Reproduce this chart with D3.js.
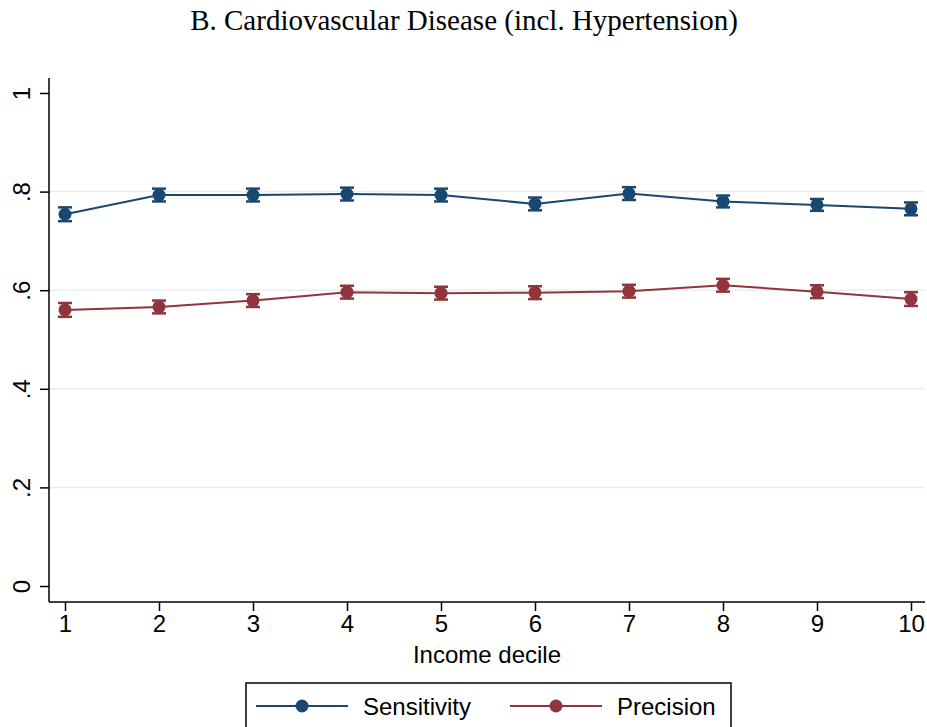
<!DOCTYPE html>
<html>
<head>
<meta charset="utf-8">
<script src="https://cdn.jsdelivr.net/npm/d3@7"></script>
<style>
  html, body { margin: 0; padding: 0; background: #fff; }
  svg { display: block; }
</style>
</head>
<body>
<svg id="chart" width="927" height="727"></svg>
<script>
// Income deciles on the x axis
const deciles = [1, 2, 3, 4, 5, 6, 7, 8, 9, 10];

// Point estimates
const sensitivity = [0.754, 0.793, 0.793, 0.795, 0.793, 0.775, 0.796, 0.780, 0.773, 0.765];
const precision   = [0.560, 0.566, 0.579, 0.596, 0.594, 0.595, 0.598, 0.610, 0.597, 0.582];

// 95% confidence interval bounds
const sensitivityLo = [0.740, 0.780, 0.780, 0.782, 0.780, 0.762, 0.783, 0.768, 0.761, 0.752];
const sensitivityHi = [0.768, 0.806, 0.806, 0.808, 0.806, 0.788, 0.809, 0.792, 0.785, 0.778];
const precisionLo   = [0.546, 0.553, 0.566, 0.583, 0.581, 0.582, 0.585, 0.597, 0.584, 0.568];
const precisionHi   = [0.574, 0.579, 0.592, 0.609, 0.607, 0.608, 0.611, 0.623, 0.610, 0.596];

const yTicks = [0, 0.2, 0.4, 0.6, 0.8, 1];
const yTickLabels = ["0", ".2", ".4", ".6", ".8", "1"];

const titleText = "B. Cardiovascular Disease (incl. Hypertension)";
const xTitle = "Income decile";

const series = [
  { name: "Sensitivity", color: "#1a476f", values: sensitivity, lo: sensitivityLo, hi: sensitivityHi },
  { name: "Precision",   color: "#90353b", values: precision,   lo: precisionLo,   hi: precisionHi }
];

const svg = d3.select("#chart");
const sans = "'Liberation Sans', Arial, sans-serif";
const fs = 24;

// Plot region
const plot = { left: 49, right: 925, top: 78, bottom: 602 };

const x = d3.scaleLinear().domain([1, 10]).range([65, 911]);
const y = d3.scaleLinear().domain([0, 1]).range([586, 93]);

// Title
svg.append("text")
  .attr("x", 464).attr("y", 30)
  .attr("text-anchor", "middle")
  .attr("font-family", "'Palatino Linotype', 'Book Antiqua', 'Liberation Serif', 'DejaVu Serif', serif")
  .attr("font-size", 29)
  .attr("fill", "#000")
  .text(titleText);

// Horizontal grid lines at interior ticks
svg.append("g")
  .selectAll("line")
  .data(yTicks.filter(t => t > 0 && t < 1))
  .join("line")
  .attr("x1", plot.left).attr("x2", plot.right)
  .attr("y1", d => y(d)).attr("y2", d => y(d))
  .attr("stroke", "#e8eff2")
  .attr("stroke-width", 1.5);

// Y axis
const yAxis = svg.append("g")
  .attr("transform", `translate(${plot.left},0)`)
  .call(d3.axisLeft(y).tickValues(yTicks).tickSize(9)
    .tickFormat((d, i) => yTickLabels[i]));
yAxis.select(".domain").attr("d", `M0,${plot.top}V${plot.bottom}`).attr("stroke", "#000").attr("stroke-width", 1.5);
yAxis.selectAll(".tick line").attr("stroke", "#000").attr("stroke-width", 1.5);
yAxis.selectAll(".tick text")
  .attr("font-family", sans).attr("font-size", fs).attr("fill", "#000")
  .attr("x", 0).attr("y", 0).attr("dy", 0)
  .attr("text-anchor", "middle")
  .attr("transform", "translate(-25,0) rotate(-90)")
  .attr("dominant-baseline", "middle");

// X axis
const xAxis = svg.append("g")
  .attr("transform", `translate(0,${plot.bottom})`)
  .call(d3.axisBottom(x).tickValues(deciles).tickSize(9).tickFormat(d3.format("d")));
xAxis.select(".domain").attr("d", `M${plot.left},0H${plot.right}`).attr("stroke", "#000").attr("stroke-width", 1.5);
xAxis.selectAll(".tick line").attr("stroke", "#000").attr("stroke-width", 1.5);
xAxis.selectAll(".tick text")
  .attr("font-family", sans).attr("font-size", fs).attr("fill", "#000")
  .attr("y", 13).attr("dy", "0.71em");

// X axis title
svg.append("text")
  .attr("x", (plot.left + plot.right) / 2).attr("y", 663)
  .attr("text-anchor", "middle")
  .attr("font-family", sans).attr("font-size", fs).attr("fill", "#000")
  .text(xTitle);

// Series: lines, confidence bars with caps, markers
const line = d3.line().x((d, i) => x(deciles[i])).y(d => y(d));
series.forEach(s => {
  const g = svg.append("g");
  g.append("path")
    .attr("d", line(s.values))
    .attr("fill", "none")
    .attr("stroke", s.color)
    .attr("stroke-width", 2);
  const bars = g.selectAll("g.ci").data(deciles).join("g").attr("class", "ci");
  bars.append("line")
    .attr("x1", d => x(d)).attr("x2", d => x(d))
    .attr("y1", (d, i) => y(s.lo[i])).attr("y2", (d, i) => y(s.hi[i]))
    .attr("stroke", s.color).attr("stroke-width", 2);
  [s.lo, s.hi].forEach(arr => {
    bars.append("line")
      .attr("x1", d => x(d) - 7).attr("x2", d => x(d) + 7)
      .attr("y1", (d, i) => y(arr[i])).attr("y2", (d, i) => y(arr[i]))
      .attr("stroke", s.color).attr("stroke-width", 2.5);
  });
  g.selectAll("circle").data(s.values).join("circle")
    .attr("cx", (d, i) => x(deciles[i]))
    .attr("cy", d => y(d))
    .attr("r", 6.5)
    .attr("fill", s.color);
});

// Legend
const legend = svg.append("g");
legend.append("rect")
  .attr("x", 246).attr("y", 683)
  .attr("width", 485).attr("height", 60)
  .attr("fill", "#fff").attr("stroke", "#000").attr("stroke-width", 1.5);
const legendItems = [
  { s: series[0], x0: 256, tx: 363 },
  { s: series[1], x0: 510, tx: 617 }
];
legendItems.forEach(it => {
  legend.append("line")
    .attr("x1", it.x0).attr("x2", it.x0 + 92)
    .attr("y1", 706).attr("y2", 706)
    .attr("stroke", it.s.color).attr("stroke-width", 2);
  legend.append("circle")
    .attr("cx", it.x0 + 46).attr("cy", 706).attr("r", 6.5)
    .attr("fill", it.s.color);
  legend.append("text")
    .attr("x", it.tx).attr("y", 706)
    .attr("dominant-baseline", "central")
    .attr("font-family", sans).attr("font-size", fs).attr("fill", "#000")
    .text(it.s.name);
});
</script>
</body>
</html>
